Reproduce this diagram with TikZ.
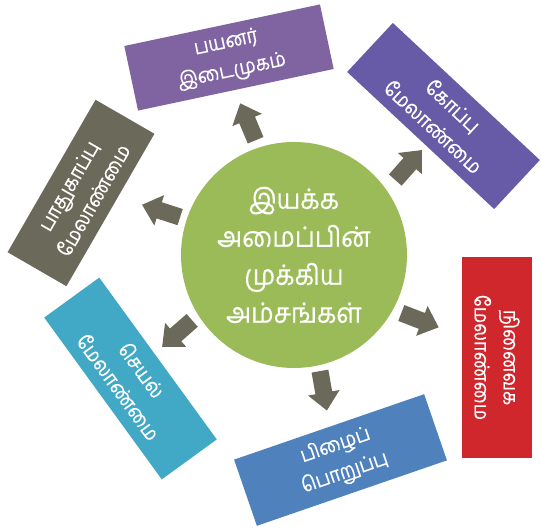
\documentclass[tikz,border=0pt]{standalone}
\usepackage{fontspec}
\newfontfamily\tamil[Script=Tamil,FakeStretch=0.9,FakeBold=0.4]{Hind Madurai}
\usetikzlibrary{calc}
\definecolor{hubgreen}{HTML}{9BBB59}
\definecolor{uipurple}{HTML}{8064A2}
\definecolor{fileviolet}{HTML}{675BA7}
\definecolor{memred}{HTML}{D0272D}
\definecolor{errblue}{HTML}{4F81BD}
\definecolor{proccyan}{HTML}{41A9C6}
\definecolor{secgray}{HTML}{6B6A5A}
\tikzset{
  card/.style={rectangle, inner sep=0pt, text=white, align=center,
    font=\tamil\fontsize{20.5}{29}\selectfont, minimum height=67pt},
  hub/.style={circle, fill=hubgreen, inner sep=0pt, minimum size=226pt,
    text=white, align=center, font=\tamil\fontsize{28}{38}\selectfont},
  blockarrow/.style={fill=secgray}
}
% block arrow pointing along +x, base centred at the origin
\newcommand\blockarrowpath{(0,-8.5) -- (22,-8.5) -- (22,-16) -- (40,0) -- (22,16) -- (22,8.5) -- (0,8.5) -- cycle}
\begin{document}
\begin{tikzpicture}[x=1pt,y=1pt]
\useasboundingbox (0,0) rectangle (541,532);

\node[hub] (hub) at (294,277) {இயக்க\\அமைப்பின்\\முக்கிய\\அம்சங்கள்};

\node[card, fill=uipurple, minimum width=200pt, minimum height=66pt, rotate=12] (ui) at (229,474.5) {பயனர்\\இடைமுகம்};
\node[card, fill=fileviolet, minimum width=201pt, minimum height=67pt, rotate=-43] (file) at (443.5,416) {கோப்பு\\மேலாண்மை};
\node[card, fill=memred, minimum width=201pt, minimum height=70pt, rotate=-90] (mem) at (497,174.5) {நினைவக\\மேலாண்மை};
\node[card, fill=errblue, minimum width=201pt, minimum height=70pt, rotate=19] (err) at (340.5,72) {பிழைப்\\பொறுப்பு};
\node[card, fill=proccyan, minimum width=200pt, minimum height=68pt, rotate=-54] (proc) at (130.5,153.5) {செயல்\\மேலாண்மை};
\node[card, fill=secgray, minimum width=176pt, minimum height=68pt, rotate=60] (sec) at (81,339) {பாதுகாப்பு\\மேலாண்மை};

% arrow bases around the hub
\coordinate (aui)   at ($(hub.center)+(108.5:121)$);
\coordinate (afile) at ($(hub.center)+(36.5:126)$);
\coordinate (amem)  at ($(hub.center)+(-28.4:122)$);
\coordinate (aerr)  at ($(hub.center)+(-77.4:119)$);
\coordinate (aproc) at ($(hub.center)+(-147.3:121)$);
\coordinate (asec)  at ($(hub.center)+(161.6:120)$);

\fill[blockarrow, shift={(aui)},   rotate=112.7]  \blockarrowpath;
\fill[blockarrow, shift={(afile)}, rotate=48.5]   \blockarrowpath;
\fill[blockarrow, shift={(amem)},  rotate=-21]    \blockarrowpath;
\fill[blockarrow, shift={(aerr)},  rotate=-80]    \blockarrowpath;
\fill[blockarrow, shift={(aproc)}, rotate=-138.7] \blockarrowpath;
\fill[blockarrow, shift={(asec)},  rotate=162]    \blockarrowpath;
\end{tikzpicture}
\end{document}
